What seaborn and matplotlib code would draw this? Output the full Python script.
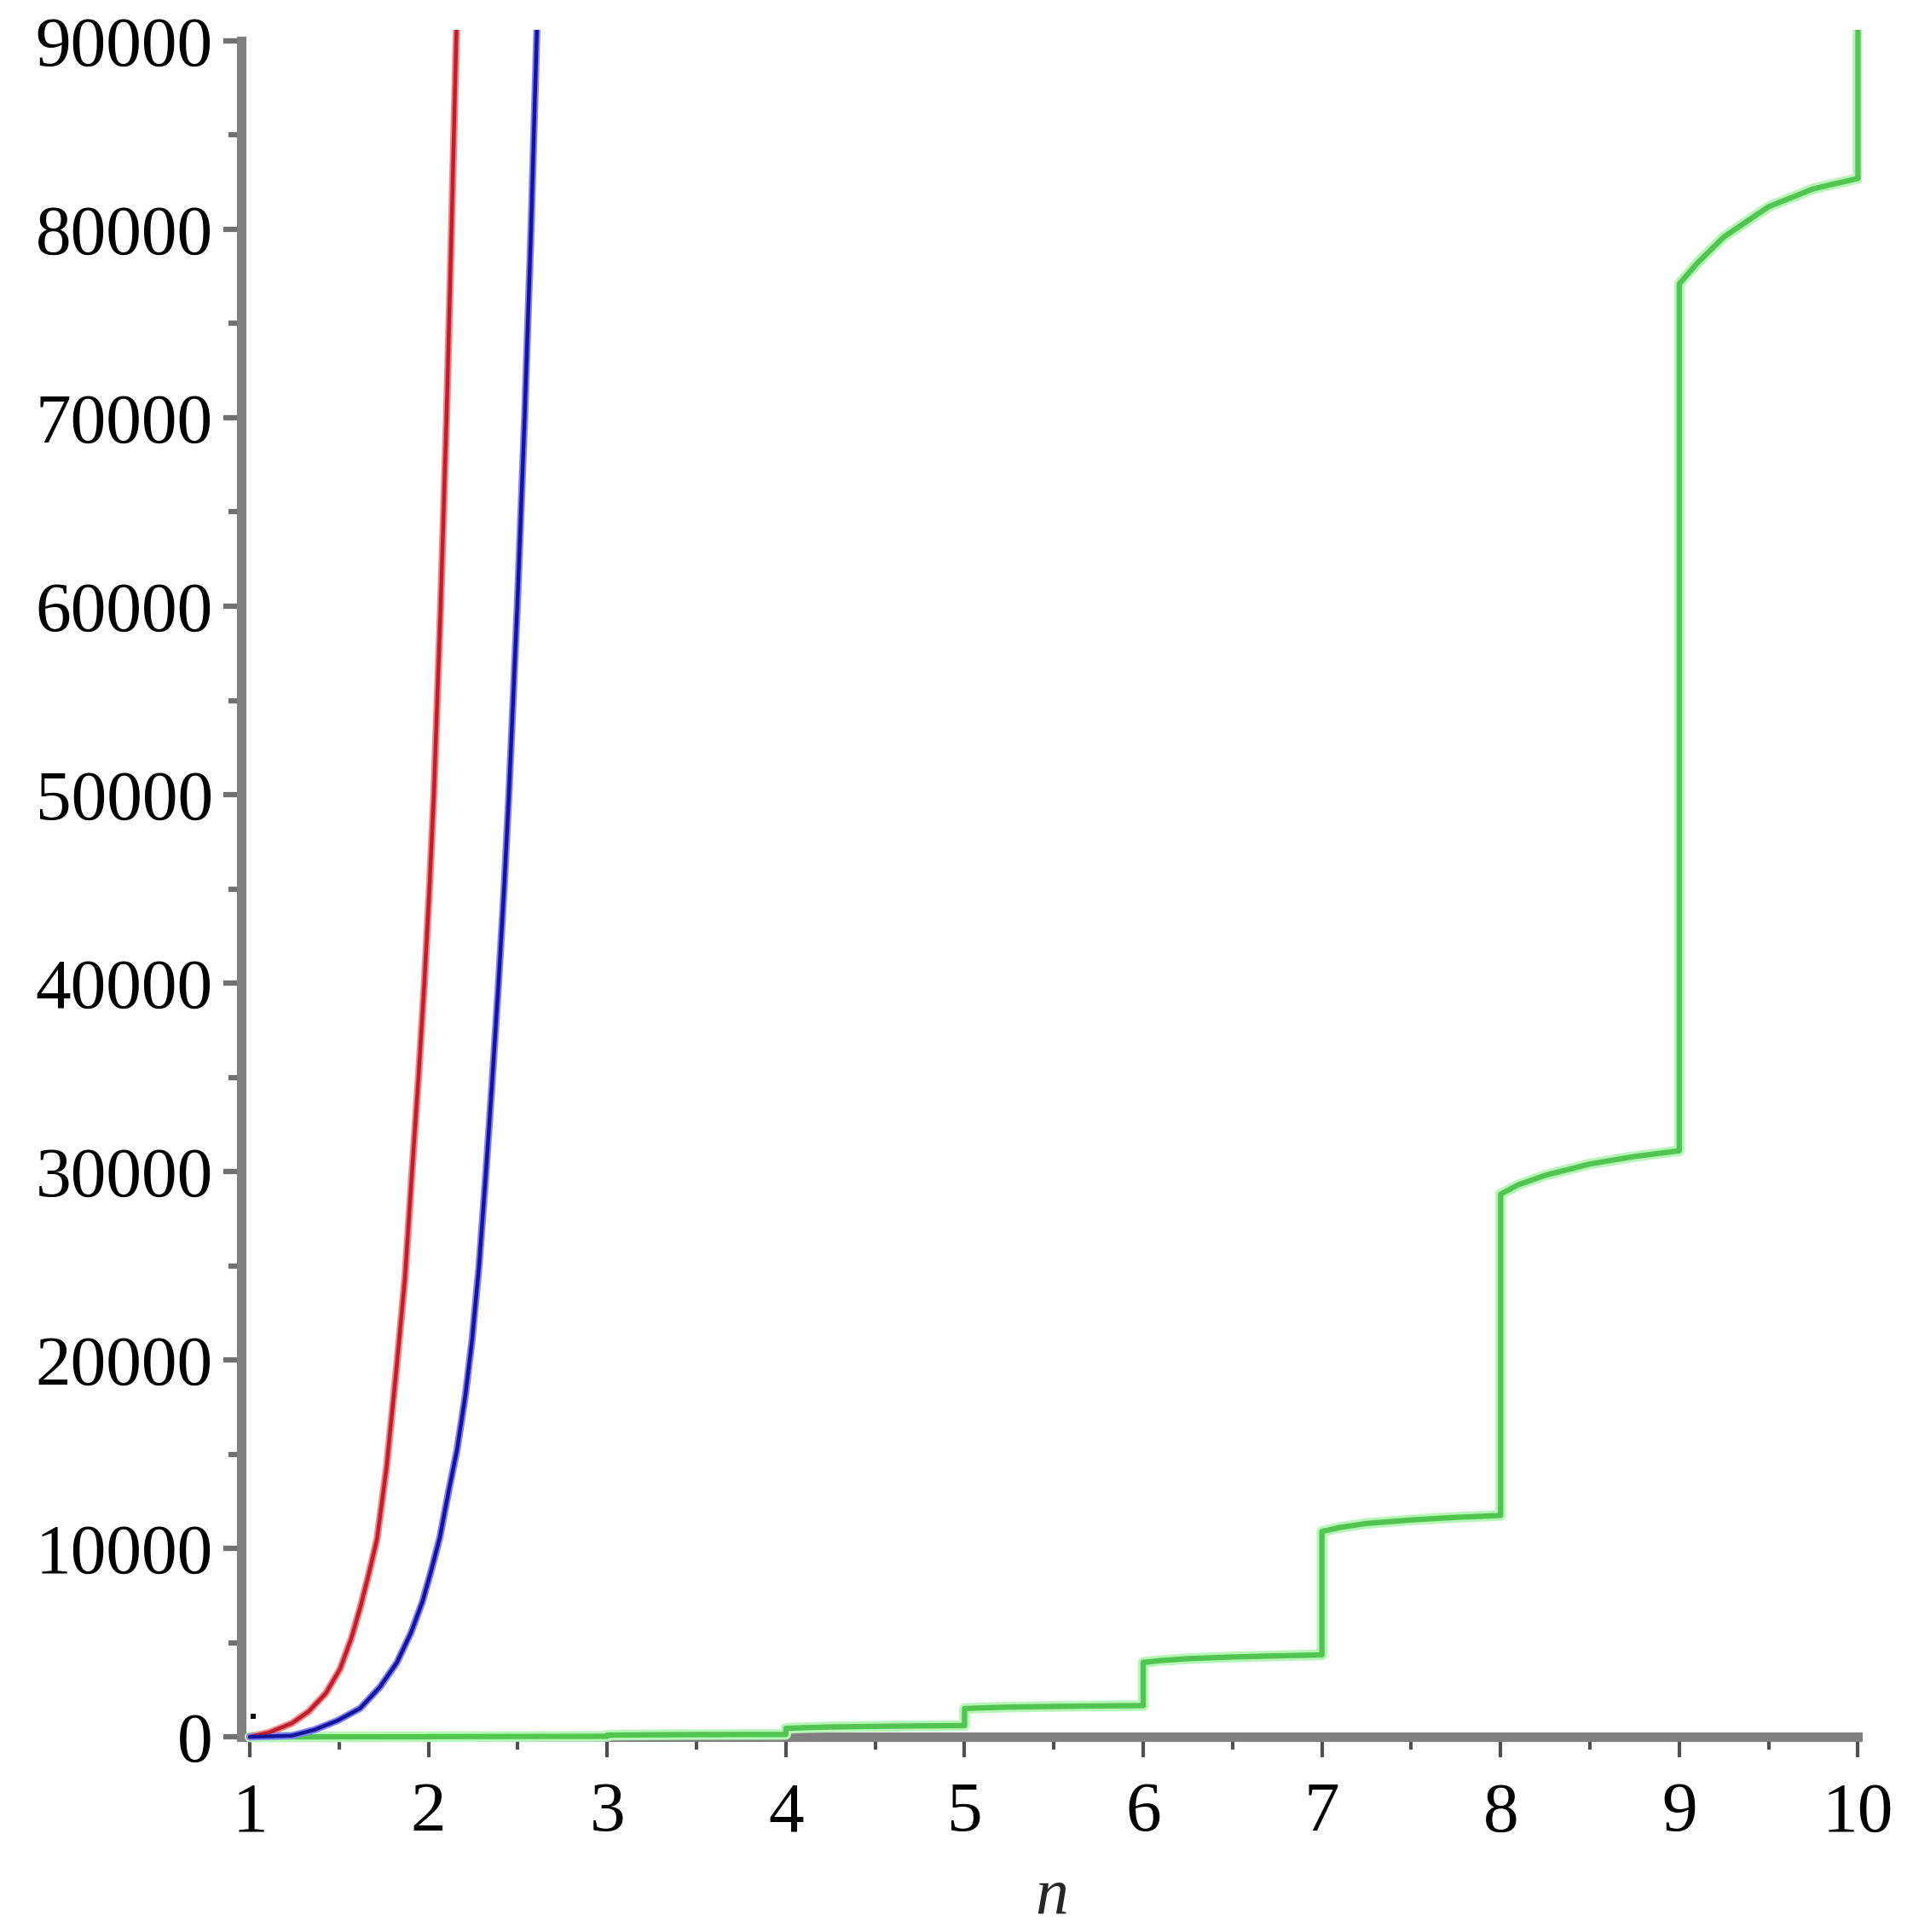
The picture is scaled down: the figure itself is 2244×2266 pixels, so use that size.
import matplotlib
matplotlib.use('Agg')
import matplotlib.pyplot as plt
import seaborn as sns
from matplotlib.ticker import FixedLocator, FixedFormatter

# ---- data ----
red_n = [1.0, 1.108, 1.235, 1.331, 1.426, 1.506, 1.569, 1.622, 1.670, 1.712, 1.765,
         1.820, 1.868, 1.908, 1.944, 1.977, 2.006, 2.030, 2.068, 2.101, 2.129, 2.155, 2.158]
red_v = [0, 230, 720, 1360, 2320, 3620, 5250, 7000, 8800, 10500, 14280,
         19460, 24300, 30000, 35000, 40000, 45150, 50000, 60000, 70000, 80000, 90000, 91000]

blue_n = [1.0, 1.235, 1.363, 1.490, 1.617, 1.728, 1.823, 1.903, 1.966, 2.014, 2.063,
          2.112, 2.160, 2.207, 2.244, 2.283, 2.322, 2.358, 2.392, 2.424, 2.450, 2.497,
          2.538, 2.574, 2.605, 2.608]
blue_v = [0, 60, 380, 860, 1510, 2640, 3940, 5550, 7170, 8780, 10560,
          12990, 15250, 18160, 21070, 25000, 30000, 35000, 40000, 45150, 50000, 60000,
          70000, 80000, 90000, 91000]

green_n = [1.0, 1.5, 2.0,
           2.0, 2.5, 3.0,
           3.0, 3.1, 3.25, 3.5, 3.75, 4.0,
           4.0, 4.1, 4.25, 4.5, 4.75, 5.0,
           5.0, 5.1, 5.25, 5.5, 5.75, 6.0,
           6.0, 6.1, 6.25, 6.5, 6.75, 7.0,
           7.0, 7.1, 7.25, 7.5, 7.75, 8.0,
           8.0, 8.1, 8.25, 8.5, 8.75, 9.0,
           9.0, 9.1, 9.25, 9.5, 9.75, 10.0,
           10.0]
green_v = [0, 4, 6,
           12, 22, 30,
           90, 100, 110, 120, 126, 130,
           450, 487, 525, 558, 582, 600,
           1500, 1540, 1580, 1615, 1641, 1660,
           3950, 4050, 4150, 4240, 4300, 4350,
           10900, 11110, 11325, 11510, 11650, 11750,
           28800, 29300, 29800, 30400, 30800, 31100,
           77100, 78200, 79600, 81200, 82150, 82700,
           91000]

dot_n = [1.02]
dot_v = [1100]

x_ticks = [1, 2, 3, 4, 5, 6, 7, 8, 9, 10]
x_tick_labels = ['1', '2', '3', '4', '5', '6', '7', '8', '9', '10']
x_minor = [1.5, 2.5, 3.5, 4.5, 5.5, 6.5, 7.5, 8.5, 9.5]
y_ticks = [0, 10000, 20000, 30000, 40000, 50000, 60000, 70000, 80000, 90000]
y_tick_labels = ['0', '10000', '20000', '30000', '40000', '50000', '60000',
                 '70000', '80000', '90000']
y_minor = [5000, 15000, 25000, 35000, 45000, 55000, 65000, 75000, 85000]
x_label = 'n'

# ---- style ----
sns.set_style('white')
plt.rcParams['font.family'] = ['Liberation Serif', 'DejaVu Serif']

fig = plt.figure(figsize=(22.44, 22.66), dpi=100)
ax = fig.add_axes([0.1261, 0.0971, 0.8470, 0.8876])

# green (halo + core)
sns.lineplot(x=green_n, y=green_v, sort=False, estimator=None, ax=ax,
             color='#b8f5b8', linewidth=9, zorder=3)
sns.lineplot(x=green_n, y=green_v, sort=False, estimator=None, ax=ax,
             color='#52c452', linewidth=4.5, zorder=4)
# red
sns.lineplot(x=red_n, y=red_v, sort=False, estimator=None, ax=ax,
             color='#ff8080', linewidth=6, zorder=5)
sns.lineplot(x=red_n, y=red_v, sort=False, estimator=None, ax=ax,
             color='#b82230', linewidth=3.2, zorder=6)
# blue
sns.lineplot(x=blue_n, y=blue_v, sort=False, estimator=None, ax=ax,
             color='#8080ff', linewidth=6, zorder=5)
sns.lineplot(x=blue_n, y=blue_v, sort=False, estimator=None, ax=ax,
             color='#15159a', linewidth=3.2, zorder=6)
# tiny black point
sns.scatterplot(x=dot_n, y=dot_v, ax=ax, color='black', marker='s', s=25,
                linewidth=0, zorder=7)

ax.set_xlim(0.952, 10.02)
ax.set_ylim(-400, 90600)

for s in ['top', 'right']:
    ax.spines[s].set_visible(False)
ax.spines['left'].set_bounds(0, 90000)
ax.spines['bottom'].set_position(('data', 0))
ax.spines['bottom'].set_bounds(0.952, 10)
for s in ['left', 'bottom']:
    ax.spines[s].set_color('#808080')
    ax.spines[s].set_linewidth(8)
    ax.spines[s].set_zorder(2)

ax.xaxis.set_major_locator(FixedLocator(x_ticks))
ax.xaxis.set_major_formatter(FixedFormatter(x_tick_labels))
ax.xaxis.set_minor_locator(FixedLocator(x_minor))
ax.yaxis.set_major_locator(FixedLocator(y_ticks))
ax.yaxis.set_major_formatter(FixedFormatter(y_tick_labels))
ax.yaxis.set_minor_locator(FixedLocator(y_minor))

ax.tick_params(axis='y', which='major', direction='out', length=15, width=4.5,
               color='#707070', labelsize=60, labelcolor='black', pad=9, left=True)
ax.tick_params(axis='y', which='minor', direction='out', length=11, width=4.5,
               color='#707070', left=True)
ax.tick_params(axis='x', which='major', direction='out', length=17, width=3,
               color='#505050', labelsize=60, labelcolor='black', pad=21, bottom=True)
ax.tick_params(axis='x', which='minor', direction='out', length=11, width=3,
               color='#505050', bottom=True)

ax.set_xlabel(x_label, fontsize=56, style='italic', labelpad=18)
ax.set_ylabel('')
ax.grid(False)

fig.savefig('out.png', dpi=100, facecolor='white')
